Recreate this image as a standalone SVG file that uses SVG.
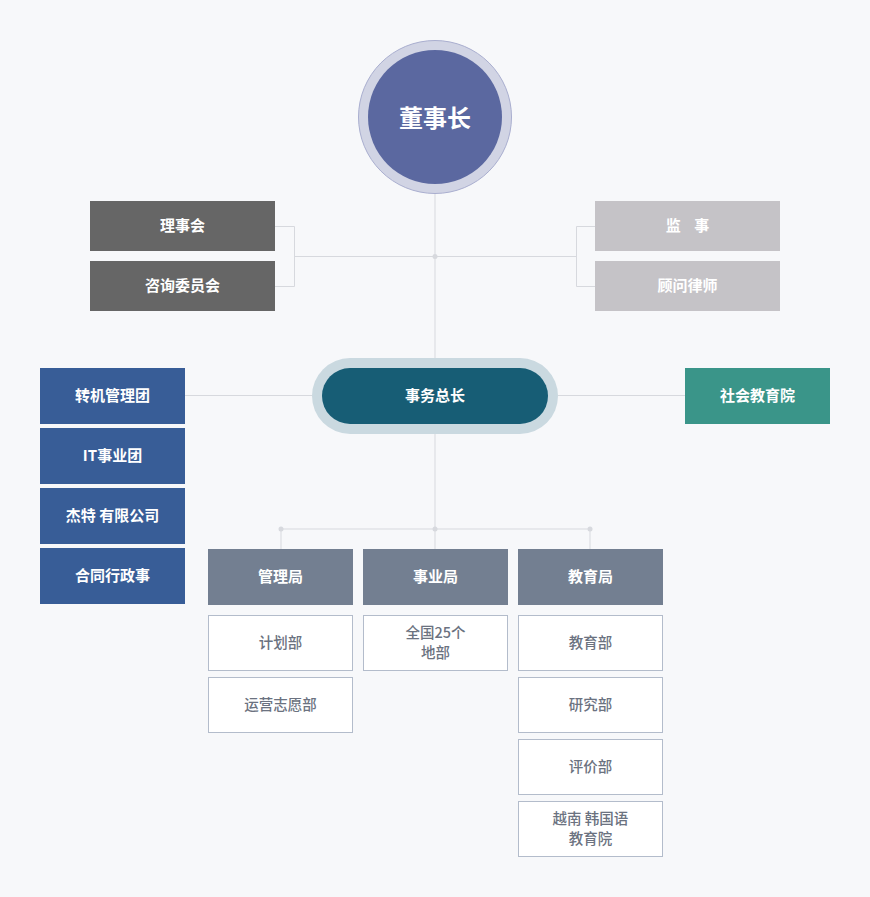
<svg xmlns="http://www.w3.org/2000/svg" width="870" height="897" viewBox="0 0 870 897">
<style>
text{font-family:"Noto Sans CJK SC","Noto Sans",sans-serif;text-anchor:middle;dominant-baseline:central}
.w{fill:#ffffff;font-size:15px;font-weight:bold}
.s{fill:#6b7280;font-size:14.5px;font-weight:500}
.ln{stroke:#d7d9de;stroke-width:1;fill:none}
.dot{fill:#d7d9de}
.sub{fill:#ffffff;stroke:#b3bccb;stroke-width:1}
.blue{fill:#385d97}
.dept{fill:#737f91}
</style>
<rect width="870" height="897" fill="#f7f8fa"/>
<g id="connectors">
<path class="ln" d="M435,194V358M435,434V529M281,529H590M281,529V549M435,529V549M590,529V549"/>
<path class="ln" d="M275,226.5H294.5V286.5H275M294.5,256.5H576.5M595,226.5H576.5V286.5H595"/>
<path class="ln" d="M185,395.5H312M558,395.5H685"/>
<circle class="dot" cx="435" cy="256.5" r="2.5"/>
<circle class="dot" cx="281" cy="529" r="2.5"/>
<circle class="dot" cx="435" cy="529" r="2.5"/>
<circle class="dot" cx="590" cy="529" r="2.5"/>
</g>
<g id="chairman">
<circle cx="435" cy="117" r="76.5" fill="#d1d4e4" stroke="#a9aecf" stroke-width="1"/>
<circle cx="435" cy="117" r="67" fill="#5b68a0"/>
<text x="435" y="116" fill="#fff" font-size="24" font-weight="bold">董事长</text>
</g>
<g id="board"><rect x="90" y="201" width="185" height="50" fill="#666"/><text class="w" x="182.5" y="224.5">理事会</text></g>
<g id="advisory"><rect x="90" y="261" width="185" height="50" fill="#666"/><text class="w" x="182.5" y="284.5">咨询委员会</text></g>
<g id="supervisor"><rect x="595" y="201" width="185" height="50" fill="#c5c3c7"/><text class="w" x="687.5" y="224.5" xml:space="preserve">监    事</text></g>
<g id="lawyer"><rect x="595" y="261" width="185" height="50" fill="#c5c3c7"/><text class="w" x="687.5" y="284.5">顾问律师</text></g>
<g id="secgen">
<rect x="312" y="358" width="246" height="76" rx="38" fill="#cad9e0"/>
<rect x="322" y="368" width="226" height="56" rx="28" fill="#175d75"/>
<text class="w" x="435" y="394" font-size="17">事务总长</text>
</g>
<g id="g1"><rect class="blue" x="40" y="368" width="145" height="56"/><text class="w" x="112.5" y="394.5">转机管理团</text></g>
<g id="g2"><rect class="blue" x="40" y="428" width="145" height="56"/><text class="w" x="112.5" y="454.5">IT事业团</text></g>
<g id="g3"><rect class="blue" x="40" y="488" width="145" height="56"/><text class="w" x="112.5" y="514.5">杰特 有限公司</text></g>
<g id="g4"><rect class="blue" x="40" y="548" width="145" height="56"/><text class="w" x="112.5" y="574.5">合同行政事</text></g>
<g id="social"><rect x="685" y="368" width="145" height="56" fill="#3a9589"/><text class="w" x="757.5" y="394.5">社会教育院</text></g>
<g id="mgmt"><rect class="dept" x="208" y="549" width="145" height="56"/><text class="w" x="280.5" y="575.5">管理局</text></g>
<g id="biz"><rect class="dept" x="363" y="549" width="145" height="56"/><text class="w" x="435.5" y="575.5">事业局</text></g>
<g id="edu"><rect class="dept" x="518" y="549" width="145" height="56"/><text class="w" x="590.5" y="575.5">教育局</text></g>
<g id="plan"><rect class="sub" x="208.5" y="615.5" width="144" height="55"/><text class="s" x="280.5" y="641.5">计划部</text></g>
<g id="ops"><rect class="sub" x="208.5" y="677.5" width="144" height="55"/><text class="s" x="280.5" y="703.5">运营志愿部</text></g>
<g id="branches"><rect class="sub" x="363.5" y="615.5" width="144" height="55"/><text class="s" x="435.5" y="631.5">全国25个</text><text class="s" x="435.5" y="651.5">地部</text></g>
<g id="edudept"><rect class="sub" x="518.5" y="615.5" width="144" height="55"/><text class="s" x="590.5" y="641.5">教育部</text></g>
<g id="research"><rect class="sub" x="518.5" y="677.5" width="144" height="55"/><text class="s" x="590.5" y="703.5">研究部</text></g>
<g id="eval"><rect class="sub" x="518.5" y="739.5" width="144" height="55"/><text class="s" x="590.5" y="765.5">评价部</text></g>
<g id="vk"><rect class="sub" x="518.5" y="801.5" width="144" height="55"/><text class="s" x="590.5" y="817.5">越南 韩国语</text><text class="s" x="590.5" y="837.5">教育院</text></g>
</svg>
